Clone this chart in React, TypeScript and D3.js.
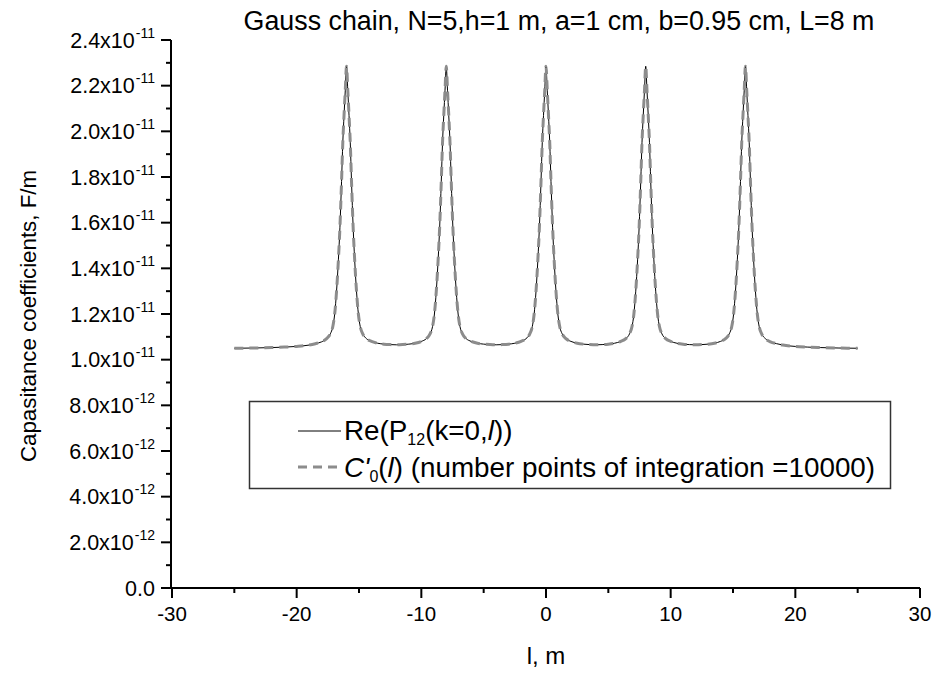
import React from "react";
import * as d3 from "d3";

const peakCenters = [-16, -8, 0, 8, 16];
// one side of a peak: offset from centre (m) and value (x1e-11 F/m)
const peakOffsets = [0, 0.1, 0.2, 0.3, 0.4, 0.53, 0.65, 0.8, 0.95, 1.1, 1.3, 1.6, 2.0, 2.5, 3.0, 3.5];
const peakValues = [2.285, 2.18, 2.07, 1.95, 1.78, 1.58, 1.44, 1.3, 1.2, 1.145, 1.113, 1.092, 1.08, 1.072, 1.068, 1.066];
const midValue = 1.065;
// outer tails beyond the end peaks
const tailOffsets = [2.0, 2.5, 3.0, 4.0, 5.0, 6.0, 7.5, 9.0];
const tailValues = [1.078, 1.07, 1.064, 1.058, 1.055, 1.053, 1.051, 1.05];

const yTicks = [0, 0.2, 0.4, 0.6, 0.8, 1.0, 1.2, 1.4, 1.6, 1.8, 2.0, 2.2, 2.4];
const xTicks = [-30, -20, -10, 0, 10, 20, 30];

function buildSeries(): [number, number][] {
  const pts: [number, number][] = [];
  peakCenters.forEach((c, i) => {
    const first = i === 0;
    const last = i === peakCenters.length - 1;
    if (first) {
      for (let k = tailOffsets.length - 1; k >= 0; k--) pts.push([c - tailOffsets[k], tailValues[k]]);
      for (let k = peakOffsets.length - 1; k >= 0; k--) {
        if (peakOffsets[k] < 2.0) pts.push([c - peakOffsets[k], peakValues[k]]);
      }
    } else {
      pts.push([c - 4, midValue]);
      for (let k = peakOffsets.length - 1; k >= 1; k--) pts.push([c - peakOffsets[k], peakValues[k]]);
      pts.push([c, peakValues[0]]);
    }
    if (last) {
      for (let k = 1; k < peakOffsets.length; k++) {
        if (peakOffsets[k] < 2.0) pts.push([c + peakOffsets[k], peakValues[k]]);
      }
      for (let k = 0; k < tailOffsets.length; k++) pts.push([c + tailOffsets[k], tailValues[k]]);
    } else {
      for (let k = 1; k < peakOffsets.length; k++) pts.push([c + peakOffsets[k], peakValues[k]]);
    }
  });
  return pts;
}

const p12Series = buildSeries();
const c0Series = buildSeries();

const FONT = "'Liberation Sans', Arial, sans-serif";

export default function App() {
  const W = 939, H = 674;
  const x = d3.scaleLinear().domain([-30, 30]).range([172, 920]);
  const y = d3.scaleLinear().domain([0, 2.4]).range([588, 40]);
  const line = d3
    .line<[number, number]>()
    .x((d) => x(d[0]))
    .y((d) => y(d[1]))
    .curve(d3.curveMonotoneX);

  const yMinor = yTicks.slice(0, -1).map((t, i) => (t + yTicks[i + 1]) / 2);
  const xMinor = xTicks.slice(0, -1).map((t, i) => (t + xTicks[i + 1]) / 2);
  const axisX = 171;

  const yLabel = (t: number) => {
    if (t === 0) return { base: "0.0", exp: "" };
    if (t >= 1) return { base: t.toFixed(1) + "x10", exp: "-11" };
    return { base: (t * 10).toFixed(1) + "x10", exp: "-12" };
  };

  return (
    <svg width={W} height={H} style={{ position: "absolute", left: 0, top: 0 }} fontFamily={FONT}>
      <rect width={W} height={H} fill="#fff" />
      <text x={559} y={30} fontSize={26.8} textAnchor="middle">
        Gauss chain, N=5,h=1 m, a=1 cm, b=0.95 cm, L=8 m
      </text>

      {/* curves */}
      <path d={line(p12Series) || ""} fill="none" stroke="#000" strokeWidth={1} />
      <path d={line(c0Series) || ""} fill="none" stroke="#8c8c8c" strokeWidth={3} strokeDasharray="9,6" />

      {/* y axis */}
      <line x1={axisX} x2={axisX} y1={y(2.4)} y2={y(0) + 1} stroke="#000" strokeWidth={2} />
      {yTicks.map((t) => (
        <line key={"yt" + t} x1={axisX - 10} x2={axisX} y1={y(t)} y2={y(t)} stroke="#000" strokeWidth={2} />
      ))}
      {yMinor.map((t) => (
        <line key={"ym" + t} x1={axisX - 5} x2={axisX} y1={y(t)} y2={y(t)} stroke="#000" strokeWidth={2} />
      ))}
      {yTicks.map((t) => {
        const l = yLabel(t);
        return (
          <text key={"yl" + t} x={155} y={y(t) + 7.5} fontSize={21.5} textAnchor="end">
            {l.base}
            {l.exp && (
              <tspan fontSize={14} dy={-10} dx={1}>
                {l.exp}
              </tspan>
            )}
          </text>
        );
      })}

      {/* x axis */}
      <line x1={axisX - 1} x2={920} y1={588} y2={588} stroke="#000" strokeWidth={2} />
      {xTicks.map((t) => (
        <line key={"xt" + t} x1={x(t)} x2={x(t)} y1={588} y2={598} stroke="#000" strokeWidth={2} />
      ))}
      {xMinor.map((t) => (
        <line key={"xm" + t} x1={x(t)} x2={x(t)} y1={588} y2={593} stroke="#000" strokeWidth={2} />
      ))}
      {xTicks.map((t) => (
        <text key={"xl" + t} x={x(t)} y={621} fontSize={20.5} textAnchor="middle">
          {t}
        </text>
      ))}
      <text x={546} y={664} fontSize={24} textAnchor="middle">
        l, m
      </text>
      <text transform={`translate(36,316) rotate(-90)`} fontSize={22.3} textAnchor="middle">
        Capasitance coefficients, F/m
      </text>

      {/* legend */}
      <rect x={249.5} y={401.5} width={641} height={87} fill="#fff" stroke="#333" strokeWidth={1.5} />
      <line x1={298} x2={341} y1={431} y2={431} stroke="#000" strokeWidth={1} />
      <text x={344} y={440} fontSize={27.8}>
        Re(P
        <tspan fontSize={16} dy={5}>12</tspan>
        <tspan dy={-5}>(k=0,</tspan>
        <tspan fontStyle="italic">l</tspan>
        <tspan>))</tspan>
      </text>
      <line x1={298} x2={341} y1={467} y2={467} stroke="#8c8c8c" strokeWidth={3} strokeDasharray="9,6" />
      <text x={344} y={477} fontSize={27.8}>
        <tspan fontStyle="italic">C'</tspan>
        <tspan fontSize={16} dy={5}>0</tspan>
        <tspan dy={-5}>(</tspan>
        <tspan fontStyle="italic">l</tspan>
        <tspan>) (number points of integration =10000)</tspan>
      </text>
    </svg>
  );
}
